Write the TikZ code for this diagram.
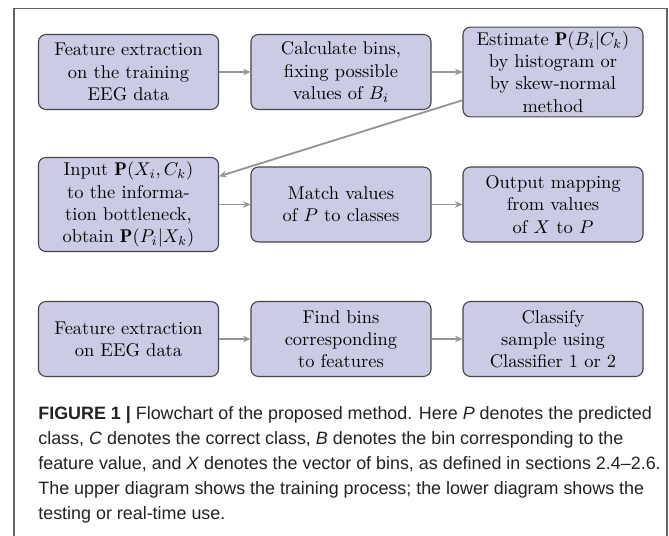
\documentclass[tikz,border=0pt]{standalone}
\usepackage{fontspec}
\newfontfamily\capfont{Liberation Sans}
\usetikzlibrary{arrows.meta}
\definecolor{boxfill}{RGB}{204,203,230}
\definecolor{boxdraw}{RGB}{70,70,70}
\definecolor{arrowgray}{RGB}{150,150,150}
\definecolor{framegray}{RGB}{100,100,100}
\definecolor{captextcol}{RGB}{35,35,35}
\begin{document}
\begin{tikzpicture}[x=0.542pt,y=-0.542pt,
  procbox/.style={draw=boxdraw, line width=0.6pt, fill=boxfill, rounded corners=4pt,
    minimum width=97.6pt, minimum height=40.6pt, text width=92.6pt, align=center,
    inner sep=2.5pt, font=\normalsize},
  flow/.style={draw=arrowgray, line width=1pt, -{Stealth[length=4pt,width=3.6pt]}},
  captext/.style={anchor=north west, inner sep=0pt, align=left, text=captextcol,
    font=\capfont\fontsize{9.7pt}{13.55pt}\selectfont}]
\useasboundingbox (0,0) rectangle (669,536);
\fill[white] (0,0) rectangle (669,536);
\draw[framegray, line width=0.6pt] (14,536) -- (14,8.5) -- (667,8.5) -- (667,536);
% row 1
\node[procbox] (a1) at (128.5,72) {Feature extraction\\on the training\\EEG data};
\node[procbox] (a2) at (341,72) {Calculate bins,\\fixing possible\\values of $B_i$};
\node[procbox] (a3) at (553,72) {Estimate $\mathbf{P}(B_i|C_k)$\\by histogram or\\by skew-normal\\method};
% row 2
\node[procbox] (b1) at (128.5,204.5) {Input $\mathbf{P}(X_i,C_k)$\\to the informa-\\tion bottleneck,\\obtain $\mathbf{P}(P_i|X_k)$};
\node[procbox] (b2) at (341,204.5) {Match values\\of $P$ to classes};
\node[procbox] (b3) at (553,204.5) {Output mapping\\from values\\of $X$ to $P$};
% row 3
\node[procbox] (c1) at (128.5,339) {Feature extraction\\on EEG data};
\node[procbox] (c2) at (341,339) {Find bins\\corresponding\\to features};
\node[procbox] (c3) at (553,339) {Classify\\sample using\\Classifier 1 or 2};
% connectors
\draw[flow] (a1) -- (a2);
\draw[flow] (a2) -- (a3);
\draw[flow] (a3) -- (b1);
\draw[flow] (b1) -- (b2);
\draw[flow] (b2) -- (b3);
\draw[flow] (c1) -- (c2);
\draw[flow] (c2) -- (c3);
% caption
\node[captext] (cap) at (38,406) {\textbf{FIGURE 1 |} Flowchart of the proposed method. Here \textit{P} denotes the predicted\\
class, \textit{C} denotes the correct class, \textit{B} denotes the bin corresponding to the\\
feature value, and \textit{X} denotes the vector of bins, as defined in sections 2.4–2.6.\\
The upper diagram shows the training process; the lower diagram shows the\\
testing or real-time use.};
\end{tikzpicture}
\end{document}
